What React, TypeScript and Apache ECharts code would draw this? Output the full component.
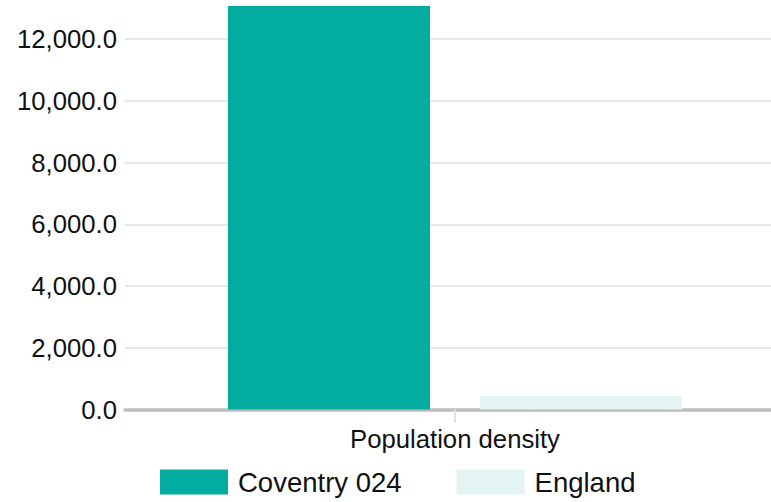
import React, { useEffect, useRef } from "react";
import * as echarts from "echarts";

const categories = ["Population density"];
const seriesNames = ["Coventry 024", "England"];
const coventryValues = [13070];
const englandValues = [434];
const seriesColors = ["#02ADA0", "#E4F4F3"];

export default function App() {
  const ref = useRef<HTMLDivElement>(null);
  useEffect(() => {
    if (!ref.current) return;
    const chart = echarts.init(ref.current, null, { renderer: "svg" });
    const font = "'Liberation Sans', Arial, sans-serif";
    chart.setOption({
      animation: false,
      grid: { left: 125, width: 660, top: 6, bottom: 92.5, outerBoundsMode: "none", containLabel: false },
      legend: {
        left: 160,
        top: 468,
        padding: 0,
        itemWidth: 68,
        itemHeight: 25,
        itemGap: 55,
        icon: "rect",
        data: seriesNames,
        textStyle: {
          fontFamily: font,
          fontSize: 27.5,
          color: "#111",
          padding: [0, 0, 0, 5],
        },
      },
      xAxis: {
        type: "category",
        data: categories,
        axisLine: { show: true, lineStyle: { color: "#BDBDBD", width: 3.5 } },
        axisTick: { show: true, alignWithLabel: true, length: 13, lineStyle: { color: "#E0E0E0", width: 2 } },
        axisLabel: { margin: 16, fontFamily: font, fontSize: 25.7, color: "#111" },
      },
      yAxis: {
        type: "value",
        min: 0,
        max: 13070,
        interval: 2000,
        axisLine: { show: false },
        axisTick: { show: false },
        splitLine: { show: true, showMaxLine: false, lineStyle: { color: "#E6E6E6", width: 2 } },
        axisLabel: {
          margin: 8,
          showMaxLabel: false,
          fontFamily: font,
          fontSize: 25.7,
          color: "#111",
          formatter: (v: number) =>
            v.toLocaleString("en-US", { minimumFractionDigits: 1, maximumFractionDigits: 1 }),
        },
      },
      series: [
        {
          name: seriesNames[0],
          type: "bar",
          data: coventryValues,
          barWidth: 202,
          barGap: "24.75%",
          itemStyle: { color: seriesColors[0] },
        },
        {
          name: seriesNames[1],
          type: "bar",
          data: englandValues,
          barWidth: 202,
          barGap: "24.75%",
          itemStyle: { color: seriesColors[1] },
        },
      ],
    });
    return () => chart.dispose();
  }, []);
  return <div ref={ref} style={{ width: 771, height: 502, position: "absolute", left: 0, top: 0 }} />;
}
